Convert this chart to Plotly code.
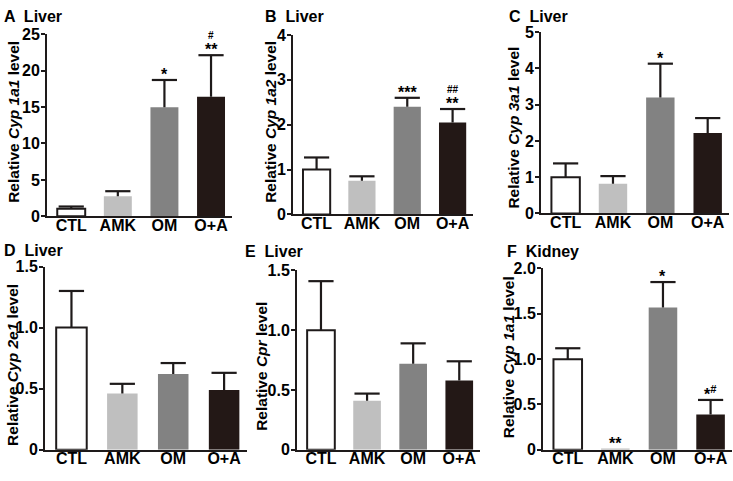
import plotly.graph_objects as go

W, H = 733, 481

groups = ["CTL", "AMK", "OM", "O+A"]

# Panel values (mean) and upper error (SEM)
a_vals = [1.05, 2.75, 14.95, 16.4]
a_err = [0.30, 0.70, 3.75, 5.7]
b_vals = [1.0, 0.75, 2.4, 2.05]
b_err = [0.27, 0.10, 0.20, 0.30]
c_vals = [1.0, 0.82, 3.2, 2.22]
c_err = [0.38, 0.21, 0.93, 0.41]
d_vals = [1.0, 0.46, 0.62, 0.49]
d_err = [0.30, 0.08, 0.09, 0.14]
e_vals = [1.0, 0.41, 0.72, 0.58]
e_err = [0.41, 0.06, 0.17, 0.16]
f_vals = [1.0, 0.005, 1.57, 0.39]
f_err = [0.12, 0.0, 0.28, 0.16]

# significance marks
a_sig = ["", "", "*", "**"]
a_hash = ["", "", "", "#"]
b_sig = ["", "", "***", "**"]
b_hash = ["", "", "", "##"]
c_sig = ["", "", "*", ""]
c_hash = ["", "", "", ""]
d_sig = ["", "", "", ""]
d_hash = ["", "", "", ""]
e_sig = ["", "", "", ""]
e_hash = ["", "", "", ""]
f_sig = ["", "**", "*", "*"]
f_hash = ["", "", "", "#"]

panel_letters = ["A", "B", "C", "D", "E", "F"]
panel_tissues = ["Liver", "Liver", "Liver", "Liver", "Liver", "Kidney"]
y_titles = [
    "Relative <i>Cyp 1a1</i> level",
    "Relative <i>Cyp 1a2</i> level",
    "Relative <i>Cyp 3a1</i> level",
    "Relative <i>Cyp 2e1</i> level",
    "Relative <i>Cpr</i> level",
    "Relative <i>Cyp 1a1</i> level",
]
y_tickvals = [
    [0, 5, 10, 15, 20, 25],
    [0, 1, 2, 3, 4],
    [0, 1, 2, 3, 4, 5],
    [0, 0.5, 1.0, 1.5],
    [0, 0.5, 1.0, 1.5],
    [0, 0.5, 1.0, 1.5, 2.0],
]
y_ticktext = [
    ["0", "5", "10", "15", "20", "25"],
    ["0", "1", "2", "3", "4"],
    ["0", "1", "2", "3", "4", "5"],
    ["0", "0.5", "1.0", "1.5"],
    ["0", "0.5", "1.0", "1.5"],
    ["0", "0.5", "1.0", "1.5", "2.0"],
]

bar_colors = ["#ffffff", "#bfbfbf", "#828282", "#231816"]
bar_line_w = [2, 0, 0, 0]
INK = "#1e1a1a"

vals = [a_vals, b_vals, c_vals, d_vals, e_vals, f_vals]
errs = [a_err, b_err, c_err, d_err, e_err, f_err]
sigs = [a_sig, b_sig, c_sig, d_sig, e_sig, f_sig]
hashes = [a_hash, b_hash, c_hash, d_hash, e_hash, f_hash]

# pixel boxes: (x0, x1, ytop, ybottom)
boxes = [
    (47, 232, 27, 216),
    (293, 473, 28, 214),
    (541, 729, 25, 213),
    (45, 247, 268, 458),
    (297, 480, 272, 458),
    (543, 732, 270, 458),
]
ytitle_pos = [(14, 118), (271, 118), (514, 124), (13, 370), (262, 372), (508, 362)]
label_pos = [(2, -2), (263, -2), (507, -2), (2, 241), (243, 242), (505, 242)]

FONT = "Liberation Sans, Arial, sans-serif"

fig = go.Figure()
layout = dict(
    width=W, height=H, margin=dict(l=0, r=0, t=0, b=0),
    paper_bgcolor="white", plot_bgcolor="white", showlegend=False,
    font=dict(family=FONT, color="black"),
)
annotations = []

for i in range(6):
    sfx = "" if i == 0 else str(i + 1)
    xa, ya = "x" + sfx, "y" + sfx
    x0, x1, yt, yb = boxes[i]
    fig.add_trace(go.Bar(
        x=groups, y=vals[i], xaxis=xa, yaxis=ya, width=0.6,
        marker=dict(color=bar_colors, line=dict(color=INK, width=bar_line_w)),
        hoverinfo="skip",
    ))
    # upper error bars: stems
    sx, sy = [], []
    for j in range(4):
        if errs[i][j] > 0:
            sx += [groups[j], groups[j], None]
            sy += [vals[i][j], vals[i][j] + errs[i][j], None]
    fig.add_trace(go.Scatter(
        x=sx, y=sy, xaxis=xa, yaxis=ya, mode="lines",
        line=dict(color=INK, width=2.2), hoverinfo="skip", cliponaxis=False,
    ))
    # caps
    cx = [groups[j] for j in range(4) if errs[i][j] > 0]
    cy = [vals[i][j] + errs[i][j] for j in range(4) if errs[i][j] > 0]
    fig.add_trace(go.Scatter(
        x=cx, y=cy, xaxis=xa, yaxis=ya, mode="markers",
        marker=dict(symbol="line-ew", size=18, line=dict(color=INK, width=2.2)),
        hoverinfo="skip", cliponaxis=False,
    ))
    ymax = y_tickvals[i][-1]
    layout["xaxis" + sfx] = dict(
        domain=[x0 / W, x1 / W], anchor=ya, type="category",
        range=[-0.52, 3.45], showline=True, linecolor=INK, linewidth=2,
        ticks="", showgrid=False, zeroline=False, ticklabelstandoff=-7,
        tickfont=dict(size=16, family=FONT, weight="bold"),
    )
    layout["yaxis" + sfx] = dict(
        domain=[1 - yb / H, 1 - yt / H], anchor=xa,
        range=[0, ymax], showline=True, linecolor=INK, linewidth=2,
        ticks="outside", ticklen=4, tickwidth=2, tickcolor=INK,
        ticklabelstandoff=-2,
        tickvals=y_tickvals[i], ticktext=y_ticktext[i],
        showgrid=False, zeroline=False,
        tickfont=dict(size=16, family=FONT, weight="bold"),
    )
    # y title
    tx, ty = ytitle_pos[i]
    annotations.append(dict(
        x=tx / W, y=1 - ty / H, xref="paper", yref="paper", text=y_titles[i],
        textangle=-90, showarrow=False, xanchor="center", yanchor="middle",
        font=dict(size=15.5, family=FONT, weight="bold"),
    ))
    # panel label
    lx, ly = label_pos[i]
    annotations.append(dict(
        x=lx / W, y=1 - ly / H, xref="paper", yref="paper",
        text=panel_letters[i] + "  " + panel_tissues[i],
        showarrow=False, xanchor="left", yanchor="top",
        font=dict(size=16, family=FONT, weight="bold"),
    ))
    # significance marks
    for j in range(4):
        top = vals[i][j] + errs[i][j]
        if sigs[i][j] and hashes[i][j] and i == 5:
            annotations.append(dict(
                x=groups[j], y=top, xref=xa, yref=ya, showarrow=False,
                text=sigs[i][j] + "<sup>" + hashes[i][j] + "</sup>",
                xanchor="center", yanchor="bottom", yshift=-5,
                font=dict(size=16, family=FONT, weight="bold"),
            ))
            continue
        if sigs[i][j]:
            annotations.append(dict(
                x=groups[j], y=top, xref=xa, yref=ya, showarrow=False,
                text=sigs[i][j], xanchor="center", yanchor="bottom", yshift=-5,
                font=dict(size=16, family=FONT, weight="bold"),
            ))
        if hashes[i][j]:
            annotations.append(dict(
                x=groups[j], y=top, xref=xa, yref=ya, showarrow=False,
                text=hashes[i][j], xanchor="center", yanchor="bottom", yshift=12,
                font=dict(size=10, family=FONT, weight="bold"),
            ))

layout["annotations"] = annotations
fig.update_layout(**layout)
fig.write_html(
    "out.html",
    config={"displayModeBar": False},
    post_script="document.body.style.margin='0';document.body.style.overflow='hidden';",
)
